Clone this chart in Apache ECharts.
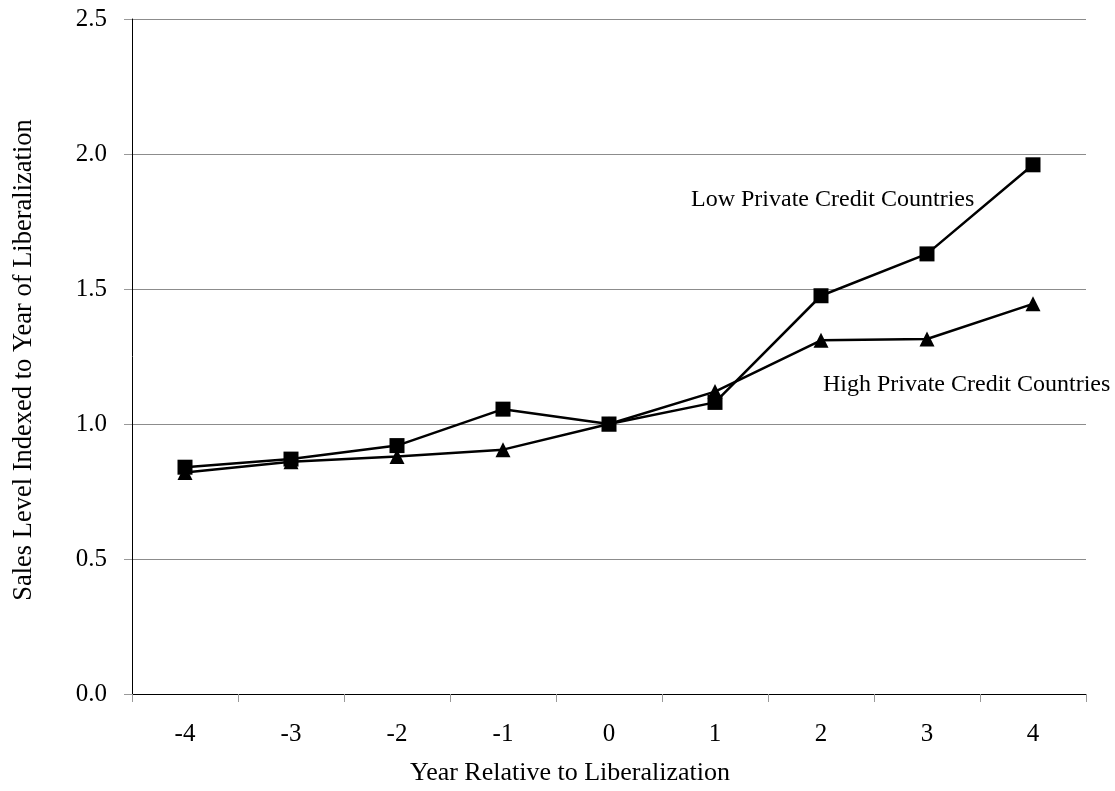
<!DOCTYPE html>
<html>
<head>
<meta charset="utf-8">
<script src="https://cdn.jsdelivr.net/npm/echarts@6/dist/echarts.min.js"></script>
<style>
html,body{margin:0;padding:0;background:#fff;}
#chart{width:1115px;height:791px;}
</style>
</head>
<body>
<div id="chart"></div>
<script>
var categories = ['-4', '-3', '-2', '-1', '0', '1', '2', '3', '4'];
var lowCredit = [0.84, 0.87, 0.92, 1.055, 1.0, 1.08, 1.475, 1.63, 1.96];
var highCredit = [0.82, 0.86, 0.88, 0.905, 1.0, 1.12, 1.31, 1.315, 1.445];
var lowLabel = 'Low Private Credit Countries';
var highLabel = 'High Private Credit Countries';
var xTitle = 'Year Relative to Liberalization';
var yTitle = 'Sales Level Indexed to Year of Liberalization';

var FONT = "'Liberation Serif', 'Times New Roman', serif";
var chart = echarts.init(document.getElementById('chart'), null, {renderer: 'canvas'});
chart.setOption({
  animation: false,
  backgroundColor: '#fff',
  grid: {left: 132, right: 29, top: 19, bottom: 97, containLabel: false},
  xAxis: {
    type: 'category',
    data: categories,
    boundaryGap: true,
    axisLine: {show: true, lineStyle: {color: '#000', width: 1}},
    axisTick: {show: true, inside: false, length: 8, lineStyle: {color: '#999'}},
    axisLabel: {color: '#000', fontFamily: FONT, fontSize: 25, margin: 28},
    splitLine: {show: false}
  },
  yAxis: {
    type: 'value',
    min: 0, max: 2.5, interval: 0.5,
    axisLine: {show: true, lineStyle: {color: '#000', width: 1}},
    axisTick: {show: true, inside: false, length: 8, lineStyle: {color: '#999'}},
    axisLabel: {color: '#000', fontFamily: FONT, fontSize: 25, margin: 25,
      formatter: function (v) { return v.toFixed(1); }},
    splitLine: {show: true, lineStyle: {color: '#8c8c8c', width: 1}}
  },
  series: [
    {
      name: highLabel, type: 'line', data: highCredit,
      symbol: 'triangle', symbolSize: 15,
      itemStyle: {color: '#000'},
      lineStyle: {color: '#000', width: 2.5},
      z: 2
    },
    {
      name: lowLabel, type: 'line', data: lowCredit,
      symbol: 'rect', symbolSize: 15,
      itemStyle: {color: '#000'},
      lineStyle: {color: '#000', width: 2.5},
      z: 3
    }
  ],
  graphic: [
    {type: 'text', x: 691, y: 200, style: {text: lowLabel, font: "24px " + FONT, fill: '#000', align: 'left', verticalAlign: 'middle'}},
    {type: 'text', x: 823, y: 385, style: {text: highLabel, font: "24px " + FONT, fill: '#000', align: 'left', verticalAlign: 'middle'}},
    {type: 'text', x: 570, y: 773, style: {text: xTitle, font: "26px " + FONT, fill: '#000', align: 'center', verticalAlign: 'middle'}},
    {type: 'text', x: 24, y: 360, rotation: Math.PI / 2, style: {text: yTitle, font: "26.5px " + FONT, fill: '#000', align: 'center', verticalAlign: 'middle'}}
  ]
});
</script>
</body>
</html>
